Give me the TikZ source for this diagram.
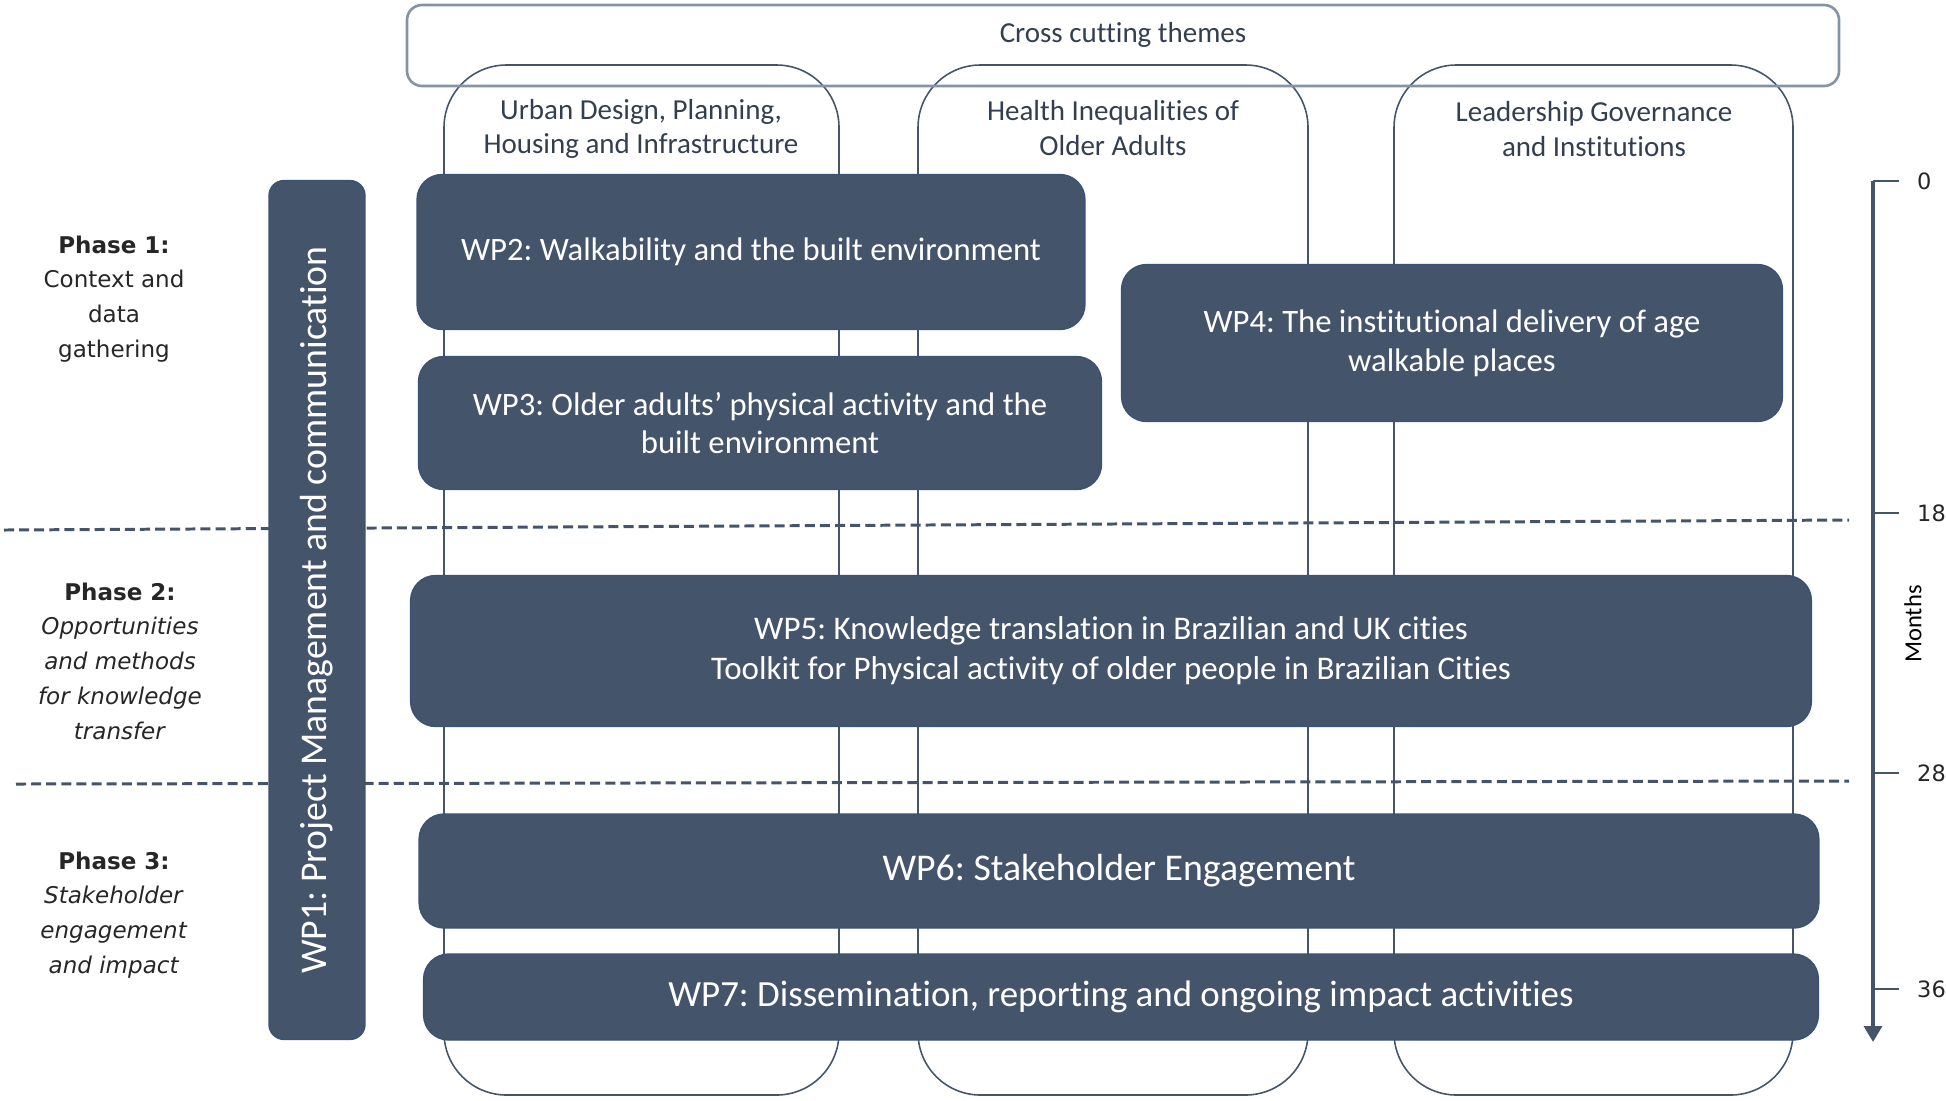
\documentclass[tikz,border=0pt]{standalone}
\usepackage{fontspec}
\setmainfont[Ligatures={NoCommon}]{Carlito}
\newfontfamily\verd{DejaVu Sans}
\usetikzlibrary{arrows.meta}
\frenchspacing
\definecolor{wpfill}{HTML}{44546A}
\definecolor{wpedge}{HTML}{3A5274}
\definecolor{themetext}{HTML}{333F50}
\definecolor{themeline}{HTML}{8593A6}
\tikzset{
  wpbox/.style={draw=wpedge,line width=0.8pt,fill=wpfill,rounded corners=0.5cm,
    text=white,align=center,inner sep=0pt},
  column/.style={draw=wpfill,line width=0.9pt,rounded corners=1.25cm},
  themelabel/.style={text=themetext,align=center,font=\fontsize{16.5}{19.8}\selectfont},
  phaselabel/.style={text=black!85,align=center,font=\verd\fontsize{13.1}{19.8}\selectfont},
  phaseline/.style={draw=wpfill,line width=1.7pt,dash pattern=on 5.7pt off 2.9pt},
  monthtick/.style={draw=wpfill,line width=1.2pt},
  monthnum/.style={font=\verd\fontsize{12.8}{15}\selectfont,text=black!85}
}
\begin{document}
\begin{tikzpicture}[x=0.02cm,y=-0.02cm]
\useasboundingbox (0,0) rectangle (1946,1100);
% themes in columns
\draw[column] (444,65) rectangle (839,1095);
\draw[column] (918,65) rectangle (1308,1095);
\draw[column] (1394,65) rectangle (1793,1095);
\draw[draw=themeline,line width=1.5pt,rounded corners=0.3cm] (407,5) rectangle (1839,86);
\node[themelabel] (cross) at (1123,35) {Cross cutting themes};
\node[themelabel] (urban) at (641,129) {Urban Design, Planning,\\Housing and Infrastructure};
\node[themelabel] (health) at (1113,128) {Health Inequalities of\\Older Adults};
\node[themelabel] (leader) at (1594,129) {Leadership Governance\\and Institutions};
% phase borders
\draw[phaseline] (4,530) -- (1849,520);
\draw[phaseline] (16,784) -- (1849,781);
% work packages
\node[wpbox,minimum width=13.36cm,minimum height=3.1cm,font=\fontsize{18.6}{22}\selectfont] (wp2) at (751,252) {WP2: Walkability and the built environment};
\node[wpbox,minimum width=13.66cm,minimum height=2.66cm,font=\fontsize{18.6}{22}\selectfont] (wp3) at (760,423) {WP3: Older adults’ physical activity and the\\built environment};
\node[wpbox,minimum width=13.22cm,minimum height=3.14cm,font=\fontsize{18.6}{22}\selectfont] (wp4) at (1452,343) {WP4: The institutional delivery of age\\walkable places};
\node[wpbox,minimum width=28.02cm,minimum height=3.02cm,font=\fontsize{18.8}{22.6}\selectfont] (wp5) at (1111,651) {WP5: Knowledge translation in Brazilian and UK cities\\Toolkit for Physical activity of older people in Brazilian Cities};
\node[wpbox,minimum width=28cm,minimum height=2.28cm,font=\fontsize{21.5}{25}\selectfont] (wp6) at (1119,871) {WP6: Stakeholder Engagement};
\node[wpbox,minimum width=27.9cm,minimum height=1.72cm,font=\fontsize{21}{24}\selectfont] (wp7) at (1121,997) {WP7: Dissemination, reporting and ongoing impact activities};
\node[wpbox,rotate=90,minimum width=17.18cm,minimum height=1.92cm,rounded corners=0.3cm,font=\fontsize{21.5}{25}\selectfont] (wp1) at (317,610) {WP1: Project Management and communication};
% phases
\node[phaselabel] (phase1) at (114,299) {\textbf{Phase 1:}\\Context and\\data\\gathering};
\node[phaselabel] (phase2) at (120,661) {\textbf{Phase 2:}\\\textit{Opportunities}\\\textit{and methods}\\\textit{for knowledge}\\\textit{transfer}};
\node[phaselabel] (phase3) at (114,915) {\textbf{Phase 3:}\\\textit{Stakeholder}\\\textit{engagement}\\\textit{and impact}};
% months axis
\coordinate (top) at (1873,181);
\coordinate (bottom) at (1873,1042);
\draw[draw=wpfill,line width=2.4pt,-{Triangle[length=9pt,width=10pt]}] (top) -- (bottom);
\foreach \m/\y in {0/181,18/513,28/773,36/989}{
  \draw[monthtick] (1873,\y) -- (1899,\y);
  \node[monthnum,anchor=west] (m\m) at (1911,\y) {\m};
}
\node[rotate=90,font=\fontsize{14}{16}\selectfont] (months) at (1913,624) {Months};
\end{tikzpicture}
\end{document}
